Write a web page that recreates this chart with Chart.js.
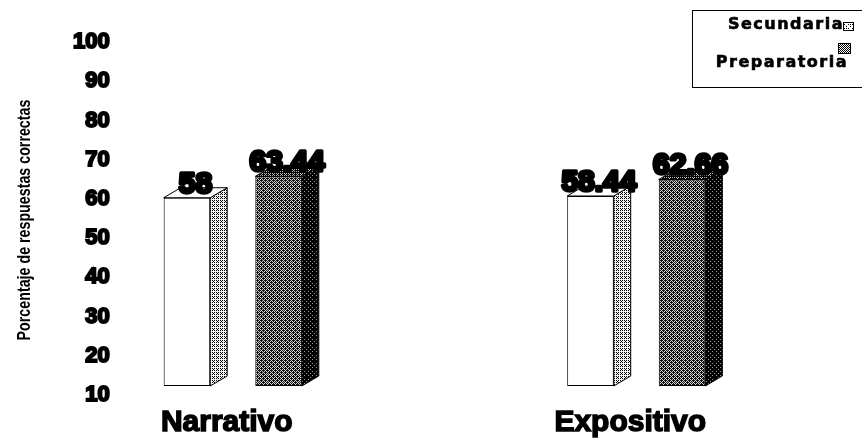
<!DOCTYPE html>
<html>
<head>
<meta charset="utf-8">
<script src="https://cdn.jsdelivr.net/npm/chart.js@4/dist/chart.umd.min.js"></script>
<style>
  html, body { margin: 0; padding: 0; background: #fff; }
  #wrap { width: 862px; height: 444px; }
</style>
</head>
<body>
<div id="wrap"><canvas id="c" width="862" height="444"></canvas></div>
<script>
// ---- data ----
const categories = ['Narrativo', 'Expositivo'];
const seriesNames = ['Secundaria', 'Preparatoria'];
const secundaria = [58, 58.44];
const preparatoria = [63.44, 62.66];
const yMin = 10;
const yMax = 100;
const yStep = 10;
const axisTitle = 'Porcentaje de respuestas correctas';

// ---- stippled fills (ordered dither) ----
const canvas = document.getElementById('c');
const ctx0 = canvas.getContext('2d');

function bayerMatrix(n) {
  let m = [[0]];
  while (m.length < n) {
    const s = m.length, out = [];
    for (let y = 0; y < s * 2; y++) {
      out.push([]);
      for (let x = 0; x < s * 2; x++) {
        const b = m[y % s][x % s] * 4;
        const q = (y < s ? 0 : 1) * 2 + (x < s ? 0 : 1);
        out[y].push(b + [0, 2, 3, 1][q]);
      }
    }
    m = out;
  }
  return m;
}
const BAYER = bayerMatrix(8);

function stipple(level, ink, paper) {
  const s = 8;
  const c = document.createElement('canvas');
  c.width = s; c.height = s;
  const g = c.getContext('2d');
  g.fillStyle = paper; g.fillRect(0, 0, s, s);
  g.fillStyle = ink;
  for (let y = 0; y < s; y++)
    for (let x = 0; x < s; x++)
      if (BAYER[y][x] < level * 64) g.fillRect(x, y, 1, 1);
  return ctx0.createPattern(c, 'repeat');
}

const styles = [
  { front: '#ffffff', side: stipple(0.30, '#000', '#f4f4f4'), top: '#ffffff', key: stipple(0.15, '#000', '#fff') },
  { front: stipple(0.60, '#111', '#cfcfcf'), side: stipple(0.88, '#000', '#9a9a9a'), top: stipple(0.70, '#000', '#bbbbbb'), key: stipple(0.5, '#000', '#fff') }
];

// ---- 3-D bar faces and value labels ----
const DX = 17, DY = 10;
const bar3d = {
  id: 'bar3d',
  afterDatasetsDraw(chart) {
    const ctx = chart.ctx;
    const bars = [];
    chart.data.datasets.forEach((ds, i) => {
      chart.getDatasetMeta(i).data.forEach((el, j) => {
        const p = el.getProps(['x', 'y', 'base', 'width'], true);
        bars.push({ p, i, v: ds.data[j] });
      });
    });
    ctx.save();
    ctx.lineWidth = 1;
    ctx.strokeStyle = '#000';
    bars.forEach(({ p, i }) => {
      const l = p.x - p.width / 2, r = p.x + p.width / 2;
      // side face
      ctx.beginPath();
      ctx.moveTo(r, p.y);
      ctx.lineTo(r + DX, p.y - DY);
      ctx.lineTo(r + DX, p.base - DY);
      ctx.lineTo(r, p.base);
      ctx.closePath();
      ctx.fillStyle = styles[i].side;
      ctx.fill(); ctx.stroke();
      // top face
      ctx.beginPath();
      ctx.moveTo(l, p.y);
      ctx.lineTo(l + DX, p.y - DY);
      ctx.lineTo(r + DX, p.y - DY);
      ctx.lineTo(r, p.y);
      ctx.closePath();
      ctx.fillStyle = styles[i].top;
      ctx.fill(); ctx.stroke();
    });
    // value labels
    ctx.font = 'bold 30px "Liberation Sans", Arial, sans-serif';
    ctx.textAlign = 'center';
    ctx.textBaseline = 'alphabetic';
    ctx.fillStyle = '#000';
    ctx.strokeStyle = '#000';
    ctx.lineWidth = 3.5;
    ctx.lineJoin = 'round';
    bars.forEach(({ p, v }) => {
      const t = String(v);
      const tx = p.x + DX / 2, ty = p.y - 5;
      ctx.strokeText(t, tx, ty);
      ctx.fillText(t, tx, ty);
    });
    ctx.restore();
  }
};

// ---- condensed vertical axis title ----
const axisTitlePlugin = {
  id: 'axisTitle',
  afterDraw(chart) {
    const ctx = chart.ctx;
    ctx.save();
    ctx.translate(25, 220);
    ctx.rotate(-Math.PI / 2);
    ctx.scale(0.75, 1);
    ctx.font = 'bold 19px "Liberation Sans", Arial, sans-serif';
    ctx.textAlign = 'center';
    ctx.textBaseline = 'middle';
    ctx.fillStyle = '#000';
    ctx.fillText(axisTitle, 0, 0);
    ctx.restore();
  }
};

// ---- boxed legend, keys at the right of the names ----
const boxLegend = {
  id: 'boxLegend',
  afterDraw(chart) {
    const ctx = chart.ctx;
    ctx.save();
    ctx.strokeStyle = '#000';
    ctx.lineWidth = 1;
    ctx.strokeRect(692.5, 10.5, 200, 77);
    ctx.font = 'bold 16px "DejaVu Sans", "Liberation Sans", sans-serif';
    ctx.letterSpacing = '1.5px';
    ctx.textAlign = 'right';
    ctx.textBaseline = 'middle';
    const rows = [
      { y: 25, right: 844, key: [843, 22, 10, 8] },
      { y: 63, right: 848, key: [838, 43, 12, 10] }
    ];
    chart.data.datasets.forEach((ds, i) => {
      const r = rows[i];
      ctx.fillStyle = '#000';
      ctx.strokeStyle = '#000';
      ctx.lineWidth = 0.6;
      ctx.strokeText(ds.label, r.right, r.y);
      ctx.fillText(ds.label, r.right, r.y);
      ctx.lineWidth = 1;
      ctx.fillStyle = styles[i].key;
      ctx.fillRect(r.key[0], r.key[1], r.key[2], r.key[3]);
      ctx.strokeRect(r.key[0] + 0.5, r.key[1] + 0.5, r.key[2], r.key[3]);
    });
    ctx.restore();
  }
};

new Chart(canvas, {
  type: 'bar',
  data: {
    labels: categories,
    datasets: [
      { label: seriesNames[0], data: secundaria, backgroundColor: styles[0].front },
      { label: seriesNames[1], data: preparatoria, backgroundColor: styles[1].front }
    ]
  },
  options: {
    responsive: false,
    animation: false,
    devicePixelRatio: 1,
    layout: { padding: { top: 33, right: 24, bottom: 2, left: 0 } },
    datasets: {
      bar: {
        base: yMin,
        categoryPercentage: 0.454,
        barPercentage: 0.508,
        borderColor: '#000',
        borderWidth: 1,
        borderSkipped: false
      }
    },
    plugins: {
      legend: { display: false },
      tooltip: { enabled: false },
      title: { display: false }
    },
    scales: {
      x: {
        grid: { display: false, drawTicks: false },
        border: { display: false },
        afterFit(scale) { scale.height = 56; },
        ticks: {
          color: '#000',
          font: { family: '"Liberation Sans", Arial, sans-serif', size: 30, weight: 'bold' },
          textStrokeColor: '#000',
          textStrokeWidth: 1.5,
          padding: 19,
          labelOffset: -6
        }
      },
      y: {
        min: yMin,
        max: yMax,
        grid: { display: false, drawTicks: false },
        border: { display: false },
        afterFit(scale) { scale.width = 31; scale.paddingTop = 0; scale.paddingBottom = 0; },
        ticks: {
          stepSize: yStep,
          mirror: true,
          crossAlign: 'far',
          padding: 42,
          labelOffset: 9,
          color: '#000',
          font: { family: '"Liberation Sans", Arial, sans-serif', size: 22, weight: 'bold' },
          textStrokeColor: '#000',
          textStrokeWidth: 2
        }
      }
    }
  },
  plugins: [bar3d, axisTitlePlugin, boxLegend]
});
</script>
</body>
</html>
